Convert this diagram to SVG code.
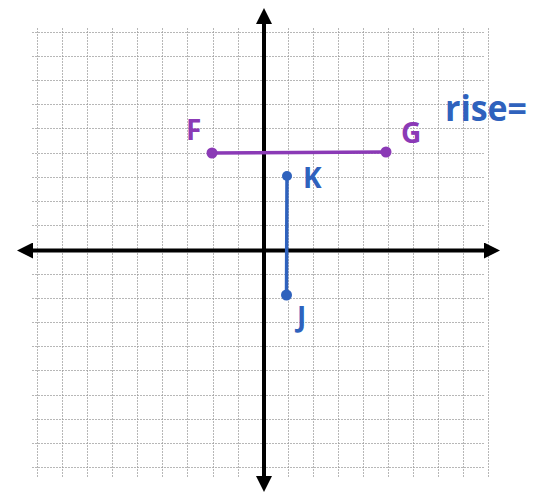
<svg xmlns="http://www.w3.org/2000/svg" width="537" height="494" viewBox="0 0 537 494">
<style>
.grid line{stroke:#9a9a9a;stroke-width:1;stroke-dasharray:2 1;opacity:0.7}
.axis{stroke:#000;stroke-width:4;fill:none}
.purple{stroke:#8b3ab6;fill:#8b3ab6}
.blue{stroke:#2f62bd;fill:#2f62bd}
.lbl{font-family:"Open Sans","Liberation Sans",sans-serif;font-weight:bold;stroke:none}
</style>
<defs>
<marker id="ah" viewBox="0 0 10 10" refX="5" refY="5" markerWidth="4" markerHeight="4" orient="auto-start-reverse" markerUnits="strokeWidth">
<path d="M0,0 L10,5 L0,10 z" fill="#000"/>
</marker>
</defs>
<rect width="537" height="494" fill="#fff"/>
<g id="grid" class="grid">
<line x1="37.5" y1="28" x2="37.5" y2="477"/>
<line x1="62.5" y1="28" x2="62.5" y2="477"/>
<line x1="87.5" y1="28" x2="87.5" y2="477"/>
<line x1="112.5" y1="28" x2="112.5" y2="477"/>
<line x1="137.5" y1="28" x2="137.5" y2="477"/>
<line x1="162.5" y1="28" x2="162.5" y2="477"/>
<line x1="187.5" y1="28" x2="187.5" y2="477"/>
<line x1="213.5" y1="28" x2="213.5" y2="477"/>
<line x1="238.5" y1="28" x2="238.5" y2="477"/>
<line x1="288.5" y1="28" x2="288.5" y2="477"/>
<line x1="313.5" y1="28" x2="313.5" y2="477"/>
<line x1="338.5" y1="28" x2="338.5" y2="477"/>
<line x1="363.5" y1="28" x2="363.5" y2="477"/>
<line x1="388.5" y1="28" x2="388.5" y2="477"/>
<line x1="413.5" y1="28" x2="413.5" y2="477"/>
<line x1="438.5" y1="28" x2="438.5" y2="477"/>
<line x1="463.5" y1="28" x2="463.5" y2="477"/>
<line x1="488.5" y1="28" x2="488.5" y2="477"/>
<line x1="32" y1="32.5" x2="484" y2="32.5"/>
<line x1="32" y1="56.5" x2="484" y2="56.5"/>
<line x1="32" y1="80.5" x2="484" y2="80.5"/>
<line x1="32" y1="104.5" x2="484" y2="104.5"/>
<line x1="32" y1="128.5" x2="484" y2="128.5"/>
<line x1="32" y1="153.5" x2="484" y2="153.5"/>
<line x1="32" y1="177.5" x2="484" y2="177.5"/>
<line x1="32" y1="201.5" x2="484" y2="201.5"/>
<line x1="32" y1="225.5" x2="484" y2="225.5"/>
<line x1="32" y1="274.5" x2="484" y2="274.5"/>
<line x1="32" y1="298.5" x2="484" y2="298.5"/>
<line x1="32" y1="322.5" x2="484" y2="322.5"/>
<line x1="32" y1="346.5" x2="484" y2="346.5"/>
<line x1="32" y1="370.5" x2="484" y2="370.5"/>
<line x1="32" y1="395.5" x2="484" y2="395.5"/>
<line x1="32" y1="419.5" x2="484" y2="419.5"/>
<line x1="32" y1="443.5" x2="484" y2="443.5"/>
<line x1="32" y1="467.5" x2="484" y2="467.5"/>
</g>
<g id="axes">
<line class="axis" x1="25" y1="250.5" x2="492" y2="250.5" marker-start="url(#ah)" marker-end="url(#ah)"/>
<line class="axis" x1="264" y1="16" x2="264" y2="484" marker-start="url(#ah)" marker-end="url(#ah)"/>
</g>
<g id="connectors">
<line class="purple" x1="212" y1="153" x2="386" y2="152" stroke-width="3.5" stroke-linecap="round"/>
<line class="blue" x1="287" y1="176" x2="286.5" y2="295" stroke-width="3.5" stroke-linecap="round"/>
</g>
<g id="F" class="purple">
<circle cx="212" cy="153" r="5.5" stroke="none"/>
<text class="lbl" x="186" y="140" font-size="28">F</text>
</g>
<g id="G" class="purple">
<circle cx="386" cy="152" r="5.5" stroke="none"/>
<text class="lbl" x="401" y="143" font-size="28">G</text>
</g>
<g id="K" class="blue">
<circle cx="287" cy="176" r="5" stroke="none"/>
<text class="lbl" x="303" y="188" font-size="28">K</text>
</g>
<g id="J" class="blue">
<circle cx="286.5" cy="295" r="5.5" stroke="none"/>
<text class="lbl" x="297" y="327" font-size="28">J</text>
</g>
<g id="rise" class="blue">
<text class="lbl" x="445" y="121" font-size="36" textLength="82" lengthAdjust="spacingAndGlyphs">rise=</text>
</g>
</svg>
